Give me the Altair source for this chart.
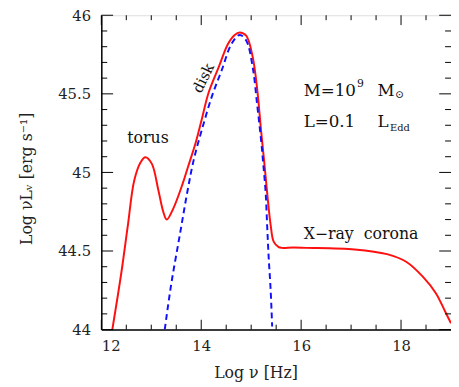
import altair as alt
import pandas as pd

# Total SED (red solid)
total_x = [12.22, 12.40, 12.53, 12.66, 12.79, 12.88, 13.01, 13.14, 13.24, 13.31, 13.44, 13.63,
           13.73, 13.89, 14.02, 14.15, 14.35, 14.54, 14.67, 14.77, 14.90, 15.03, 15.12, 15.20,
           15.26, 15.32, 15.39, 15.45, 15.55, 15.61, 15.84, 16.10, 17.07, 17.72, 18.11, 18.44,
           18.70, 18.89, 19.0]
total_y = [44.0, 44.36, 44.66, 44.95, 45.066, 45.097, 45.056, 44.89, 44.75, 44.70, 44.77, 44.93,
           45.03, 45.19, 45.35, 45.51, 45.67, 45.82, 45.875, 45.89, 45.87, 45.735, 45.53, 45.26,
           45.07, 44.87, 44.665, 44.56, 44.525, 44.52, 44.522, 44.52, 44.51, 44.48, 44.43, 44.335,
           44.23, 44.11, 44.04]

# Accretion disk (blue dashed)
disk_x = [13.27, 13.40, 13.57, 13.73, 13.85, 14.02, 14.22, 14.41, 14.61, 14.77, 14.90, 15.03,
          15.12, 15.20, 15.24, 15.29, 15.32, 15.35, 15.39, 15.42]
disk_y = [44.0, 44.29, 44.60, 44.89, 45.08, 45.28, 45.49, 45.65, 45.82, 45.875, 45.84, 45.67,
          45.43, 45.20, 45.06, 44.87, 44.66, 44.46, 44.25, 44.02]

x_major_ticks = [12, 14, 16, 18]
x_minor_ticks = [12.5, 13, 13.5, 14.5, 15, 15.5, 16.5, 17, 17.5, 18.5]
y_major_ticks = [44, 44.5, 45, 45.5, 46]
y_minor_ticks = [44.1, 44.2, 44.3, 44.4, 44.6, 44.7, 44.8, 44.9,
                 45.1, 45.2, 45.3, 45.4, 45.6, 45.7, 45.8, 45.9]

# annotations: text, x, y, font size
ann_text = ["torus", "X−ray\u00a0\u00a0corona", "M=10", "9", "M", "⊙", "L=0.1", "L", "Edd"]
ann_x = [12.52, 16.05, 16.05, 17.12, 17.53, 17.88, 16.05, 17.53, 17.78]
ann_y = [45.22, 44.61, 45.52, 45.565, 45.52, 45.49, 45.32, 45.32, 45.285]
ann_size = [16, 16, 17, 11, 17, 11, 17, 17, 10]

disk_label = ["disk"]
disk_label_x = [14.04]
disk_label_y = [45.60]

W, H = 356, 320
FONT = "DejaVu Serif"

xs = alt.Scale(domain=[12, 19], nice=False, zero=False)
ys = alt.Scale(domain=[44, 46], nice=False, zero=False)

df_total = pd.DataFrame({"x": total_x, "y": total_y})
df_disk = pd.DataFrame({"x": disk_x, "y": disk_y})

base_x = alt.X("x:Q", scale=xs,
               axis=alt.Axis(values=x_major_ticks, ticks=False, grid=False, labelFont=FONT,
                             labelFontSize=15, labelColor="#222", labelPadding=9,
                             domainColor="black", domainWidth=1.5,
                             title="Log ν [Hz]", titleFont=FONT, titleFontSize=16,
                             titleFontWeight="normal", titleColor="#222",
                             titleX=157, titleY=44, titleBaseline="middle"))
base_y = alt.Y("y:Q", scale=ys,
               axis=alt.Axis(values=y_major_ticks, ticks=False, grid=False, labelFont=FONT,
                             labelFontSize=15, labelColor="#222", labelPadding=11,
                             labelExpr="datum.value",
                             domainColor="black", domainWidth=1.5,
                             title="Log νLᵥ [erg s⁻¹]", titleFont=FONT, titleFontSize=16,
                             titleFontWeight="normal", titleColor="#222",
                             titleX=-76, titleY=166, titleAngle=270, titleBaseline="middle"))

red = alt.Chart(df_total).mark_line(color="#ff1010", strokeWidth=2, clip=True,
                                    interpolate="catmull-rom").encode(x=base_x, y=base_y)
blue = alt.Chart(df_disk).mark_line(color="#1010ff", strokeWidth=2, clip=True,
                                    strokeDash=[6, 4], interpolate="catmull-rom").encode(
    x=alt.X("x:Q", scale=xs), y=alt.Y("y:Q", scale=ys))


def xticks(vals, ln):
    d = pd.DataFrame({"x": vals})
    bot = alt.Chart(d).mark_rule(color="black", strokeWidth=1).encode(
        x=alt.X("x:Q", scale=xs), y=alt.value(H), y2=alt.value(H - ln))
    top = alt.Chart(d).mark_rule(color="black", strokeWidth=1).encode(
        x=alt.X("x:Q", scale=xs), y=alt.value(0), y2=alt.value(ln))
    return [bot, top]


def yticks(vals, ln):
    d = pd.DataFrame({"y": vals})
    left = alt.Chart(d).mark_rule(color="black", strokeWidth=1).encode(
        y=alt.Y("y:Q", scale=ys), x=alt.value(0), x2=alt.value(ln))
    right = alt.Chart(d).mark_rule(color="black", strokeWidth=1).encode(
        y=alt.Y("y:Q", scale=ys), x=alt.value(W), x2=alt.value(W - ln))
    return [left, right]


tick_layers = (xticks(x_major_ticks, 10) + xticks(x_minor_ticks, 5)
               + yticks(y_major_ticks, 12) + yticks(y_minor_ticks, 6))

df_ann = pd.DataFrame({"t": ann_text, "x": ann_x, "y": ann_y, "s": ann_size})
ann = alt.Chart(df_ann).mark_text(font=FONT, color="#111", align="left",
                                  baseline="middle").encode(
    x=alt.X("x:Q", scale=xs), y=alt.Y("y:Q", scale=ys), text="t:N",
    size=alt.Size("s:Q", scale=None, legend=None))
disk = alt.Chart(pd.DataFrame({"t": disk_label, "x": disk_label_x, "y": disk_label_y})).mark_text(
    font=FONT, fontSize=15, color="#111", angle=296, align="center", baseline="middle").encode(
    x=alt.X("x:Q", scale=xs), y=alt.Y("y:Q", scale=ys), text="t:N")

chart = alt.layer(red, blue, *tick_layers, ann, disk).properties(
    width=W, height=H,
    autosize=alt.AutoSizeParams(type="none"),
    padding={"left": 95, "top": 4, "right": 0, "bottom": 52},
).configure_view(stroke="black", strokeWidth=1.5).configure(background="white")

chart.save("out.html", embed_options={"renderer": "svg", "actions": False})
